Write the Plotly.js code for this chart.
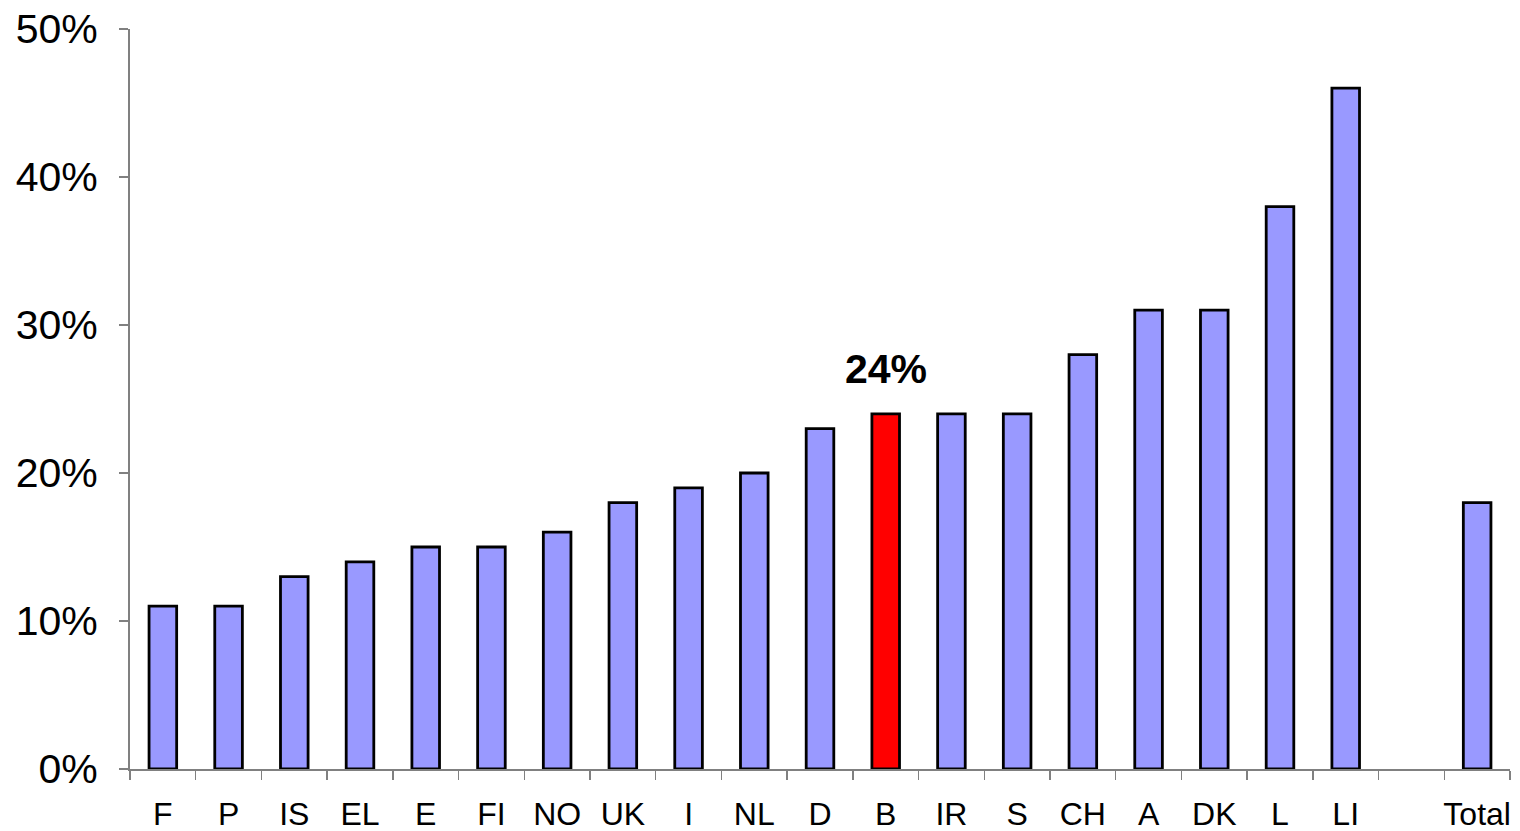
<!DOCTYPE html>
<html>
<head>
<meta charset="utf-8">
<script src="https://cdn.plot.ly/plotly-3.0.1.min.js"></script>
<style>html,body{margin:0;padding:0;background:#fff;}#chart{width:1520px;height:831px;}</style>
</head>
<body>
<div id="chart"></div>
<script>
const categories = ["F","P","IS","EL","E","FI","NO","UK","I","NL","D","B","IR","S","CH","A","DK","L","LI"," ","Total"];
const values = [11,11,13,14,15,15,16,18,19,20,23,24,24,24,28,31,31,38,46,null,18];
const highlight = "B";
const highlightLabel = "24%";
const yTicks = [0,10,20,30,40,50];

const colors = categories.map(c => c === highlight ? "#FF0000" : "#9999FF");

const trace = {
  type: "bar",
  x: categories,
  y: values,
  width: 0.42,
  marker: {color: colors, line: {color: "#000000", width: 2.8}},
  hoverinfo: "x+y"
};

const hiIdx = categories.indexOf(highlight);

const layout = {
  width: 1520, height: 831,
  margin: {l: 130, r: 10, t: 29, b: 62},
  paper_bgcolor: "#fff", plot_bgcolor: "#fff",
  showlegend: false,
  font: {family: "Liberation Sans, Arial, sans-serif", color: "#000"},
  xaxis: {
    type: "category",
    range: [-0.5, categories.length - 0.5],
    tickson: "boundaries",
    tickangle: 0,
    ticks: "outside", ticklen: 9, tickwidth: 1.5, tickcolor: "#808080",
    showline: true, linecolor: "#808080", linewidth: 2,
    showgrid: false, zeroline: false,
    tickfont: {size: 32, family: "Liberation Sans, Arial, sans-serif"},
    ticklabelstandoff: 16,
    automargin: false,
    fixedrange: true
  },
  yaxis: {
    range: [0, 50],
    tickvals: yTicks,
    ticktext: yTicks.map(v => v + "%"),
    ticks: "outside", ticklen: 9, tickwidth: 1.5, tickcolor: "#808080",
    showline: true, linecolor: "#808080", linewidth: 2,
    showgrid: false, zeroline: false,
    tickfont: {size: 41, family: "Liberation Sans, Arial, sans-serif"},
    ticklabelstandoff: 13,
    automargin: false,
    fixedrange: true
  },
  annotations: [{
    x: categories[hiIdx], y: values[hiIdx],
    xref: "x", yref: "y",
    text: "<b>" + highlightLabel + "</b>",
    showarrow: false,
    yanchor: "bottom", yshift: 20,
    font: {size: 41, color: "#000", family: "Liberation Sans, Arial, sans-serif"}
  }]
};

Plotly.newPlot("chart", [trace], layout, {displayModeBar: false, staticPlot: true});
</script>
</body>
</html>
